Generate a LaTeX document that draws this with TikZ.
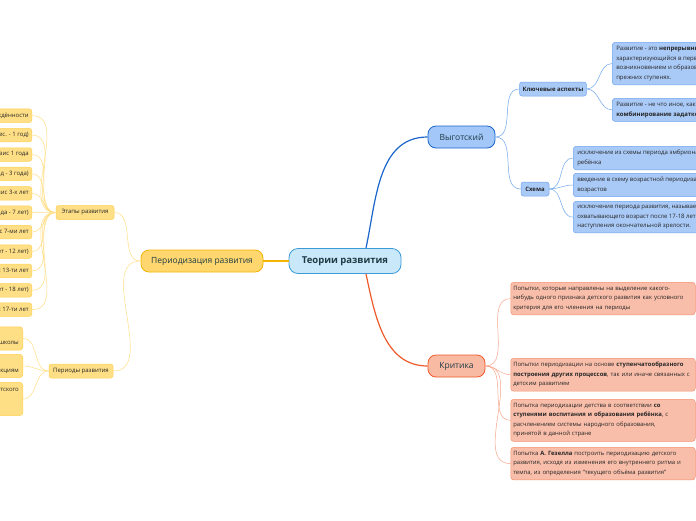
\documentclass[tikz,border=0pt]{standalone}
\usepackage{fontspec}
\setmainfont{Open Sans}
\definecolor{rootfill}{HTML}{C9E9FB}
\definecolor{rootline}{HTML}{3D9AD9}
\definecolor{maintext}{HTML}{1E3B45}
\definecolor{vygfill}{HTML}{A3C7F8}
\definecolor{vygline}{HTML}{1A66CC}
\definecolor{bluesub}{HTML}{A9C9F6}
\definecolor{bluesubline}{HTML}{6FA6EE}
\definecolor{perfill}{HTML}{FFD76E}
\definecolor{perline}{HTML}{F4B400}
\definecolor{yelsubfill}{HTML}{FFDF85}
\definecolor{yelsubline}{HTML}{FFD050}
\definecolor{kritfill}{HTML}{F8BAA3}
\definecolor{kritline}{HTML}{EF5A2A}
\definecolor{redsub}{HTML}{F9BEAA}
\definecolor{redsubline}{HTML}{F5906E}
\begin{document}
\begin{tikzpicture}[x=1pt, y=-1pt]
        \tikzstyle{root}=[rounded corners=9pt,fill=rootfill,draw=rootline,line width=0.8pt,minimum width=112pt,minimum height=25pt,font=\fontsize{9.5}{11}\selectfont\bfseries,text=maintext]
        \tikzstyle{topic}=[rounded corners=8pt,line width=0.8pt,minimum height=22pt,font=\fontsize{8.5}{10}\selectfont,text=maintext]
        \tikzstyle{sub}=[rounded corners=2.5pt,line width=0.5pt,minimum height=14pt,inner xsep=3pt,font=\fontsize{6}{9}\selectfont,text=black!85]
        \tikzstyle{leaf}=[rounded corners=3pt,line width=0.5pt,inner xsep=4pt,inner ysep=4pt,align=left,font=\fontsize{6}{9.5}\selectfont,text=black!85]
        \tikzstyle{blueline}=[draw=bluesubline,line width=0.5pt]
        \tikzstyle{redline}=[draw=redsubline!80,line width=0.5pt]
        \tikzstyle{yelline}=[draw=yelsubline!70,line width=0.5pt]

        \useasboundingbox (0,0) rectangle (696,520);
        \fill[white] (0,0) rectangle (696,520);
        \clip (0,0) rectangle (696,520);

        % centre and main topics
        \node[root] (root) at (345,261) {Теории развития};
        \node[topic,fill=perfill,draw=perline,minimum width=122pt] (period) at (202,261) {Периодизация развития};
        \node[topic,fill=vygfill,draw=vygline,minimum width=67pt] (vyg) at (461.5,137) {Выготский};
        \node[topic,fill=kritfill,draw=kritline,minimum width=57pt] (krit) at (456.5,366) {Критика};

        \draw[vygline,line width=1.2pt] ([xshift=21pt]root.north) to[out=78,in=180] (vyg.west);
        \draw[kritline,line width=1.2pt] ([xshift=21pt]root.south) to[out=-78,in=180] (krit.west);
        \draw[perline,line width=1.2pt] (root.west) -- (period.east);

        % Vygotsky
        \node[sub,fill=bluesub,draw=bluesubline,minimum width=64pt,font=\fontsize{6}{9}\selectfont\bfseries] (key) at (553,89) {Ключевые аспекты};
        \node[sub,fill=bluesub,draw=bluesubline,minimum width=28pt,font=\fontsize{6}{9}\selectfont\bfseries] (scheme) at (535,189) {Схема};
        \draw[blueline] (vyg.east) to[out=0,in=180] (key.west);
        \draw[blueline] (vyg.east) to[out=0,in=180] (scheme.west);

        \node[leaf,fill=bluesub,draw=bluesubline,anchor=north west] (keyA) at (612,42) {Развитие - это \textbf{непрерывный процесс}\\характеризующийся в первую очередь\\возникновением и образованием нового,\\прежних ступенях.};
        \node[leaf,fill=bluesub,draw=bluesubline,anchor=north west] (keyB) at (612,98) {Развитие - не что иное, как реализация,\\\textbf{комбинирование задатков}};
        \draw[blueline] (key.east) to[out=0,in=180] (keyA.west);
        \draw[blueline] (key.east) to[out=0,in=180] (keyB.west);

        \node[leaf,fill=bluesub,draw=bluesubline,anchor=north west] (schA) at (573,146) {исключение из схемы периода эмбрионального развития\\ребёнка};
        \node[leaf,fill=bluesub,draw=bluesubline,anchor=north west] (schB) at (573,173) {введение в схему возрастной периодизации критических\\возрастов};
        \node[leaf,fill=bluesub,draw=bluesubline,anchor=north west] (schC) at (573,201) {исключение периода развития, называемого юношеским,\\охватывающего возраст после 17-18 лет вплоть до\\наступления окончательной зрелости.};
        \foreach \n in {schA,schB,schC}
          \draw[blueline] (scheme.east) to[out=0,in=180] (\n.west);

        % criticism
        \tikzstyle{crit}=[leaf,fill=redsub,draw=redsubline,anchor=north west,inner xsep=2.5pt,text width=179.5pt,font=\fontsize{5.9}{9.5}\selectfont]
        \node[crit] (cr1) at (510.5,282) {Попытки, которые направлены на выделение какого-\\нибудь одного признака детского развития как условного\\критерия для его членения на периоды};
        \node[crit] (cr2) at (510.5,358) {Попытки периодизации на основе \textbf{ступенчатообразного}\\\textbf{построения других процессов}, так или иначе связанных с\\детским развитием};
        \node[crit] (cr3) at (510.5,399) {Попытка периодизации детства в соответствии \textbf{со}\\\textbf{ступенями воспитания и образования ребёнка}, с\\расчленением системы народного образования,\\принятой в данной стране};
        \node[crit] (cr4) at (510.5,447) {Попытка \textbf{А. Гезелла} построить периодизацию детского\\развития, исходя из изменения его внутреннего ритма и\\темпа, из определения "текущего объёма развития"};
        \foreach \n in {cr1,cr2,cr3,cr4}
          \draw[redline] (krit.east) to[out=0,in=180] (\n.west);

        % periodization
        \node[sub,fill=yelsubfill,draw=yelsubline,minimum width=58pt] (stages) at (85,212.5) {Этапы развития};
        \node[sub,fill=yelsubfill,draw=yelsubline,minimum width=64pt] (periods) at (81,371) {Периоды развития};
        \draw[yelline] (period.west) to[out=180,in=0] (stages.east);
        \draw[yelline] (period.west) to[out=180,in=0] (periods.east);

        \foreach \t [count=\i] in {{Кризис новорождённости},{Младенческий возраст (2 мес. - 1 год)},{Кризис 1 года},{Раннее детство (1 год - 3 года)},{Кризис 3-х лет},{Дошкольный возраст (3 года - 7 лет)},{Кризис 7-ми лет},{Школьный возраст (8 лет - 12 лет)},{Кризис 13-ти лет},{Пубертатный возраст (14 лет - 18 лет)},{Кризис 17-ти лет}}
        {
          \node[sub,fill=yelsubfill,draw=yelsubline,anchor=east,minimum height=13.5pt] (st\i) at (32,{96.3+19.4*\i}) {\t};
          \draw[yelline] (stages.west) to[out=180,in=0] (st\i.east);
        }

        \node[leaf,fill=yelsubfill,draw=yelsubline,anchor=east] (per1) at (23,338.5) {Периодизация по\\внешним критериям: ступени школы};
        \node[leaf,fill=yelsubfill,draw=yelsubline,anchor=east] (per2) at (23,366) {Периодизация по одному\\признаку развития и его функциям};
        \node[leaf,fill=yelsubfill,draw=yelsubline,anchor=east] (per3) at (23,399) {Периодизация по существенным особенностям детского\\развития, учитывающая его характер\\и закономерности};
        \foreach \n in {per1,per2,per3}
          \draw[yelline] (periods.west) to[out=180,in=0] (\n.east);
\end{tikzpicture}
\end{document}
